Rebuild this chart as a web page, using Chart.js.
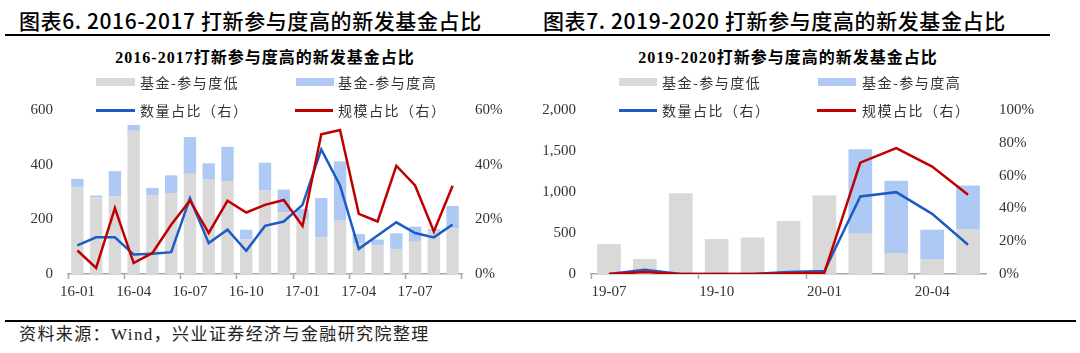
<!DOCTYPE html>
<html>
<head>
<meta charset="utf-8">
<script src="https://cdn.jsdelivr.net/npm/chart.js@4.4.1/dist/chart.umd.min.js"></script>
<style>
body{margin:0;width:1080px;height:353px;background:#fff;position:relative;overflow:hidden;font-family:"Noto Sans CJK SC",sans-serif;color:#000;}
.abs{position:absolute;white-space:nowrap;}
.hdr{font-size:21px;line-height:24px;font-weight:500;letter-spacing:0.6px;}
.ttl{font-family:"Liberation Serif","Noto Sans CJK SC",serif;font-size:16px;line-height:20px;font-weight:700;width:400px;text-align:center;letter-spacing:1px;}
.lg{font-size:14px;line-height:18px;color:#333;letter-spacing:1.5px;}
.box{height:8px;}
.ln{height:2.5px;}
</style>
</head>
<body>
<div class="abs hdr" style="left:19px;top:8px">图表6. 2016-2017 打新参与度高的新发基金占比</div>
<div class="abs hdr" style="left:543px;top:8px">图表7. 2019-2020 打新参与度高的新发基金占比</div>
<div class="abs" style="left:5px;top:34px;width:1045px;height:2px;background:#000"></div>

<div class="abs" style="left:0;top:86px"><canvas id="c1" width="540" height="224"></canvas></div>
<div class="abs" style="left:540px;top:86px"><canvas id="c2" width="540" height="224"></canvas></div>

<div class="abs ttl" style="left:65px;top:48px">2016-2017打新参与度高的新发基金占比</div>
<div class="abs ttl" style="left:588px;top:48px">2019-2020打新参与度高的新发基金占比</div>

<div class="abs box" style="left:96px;top:78px;width:39px;background:#d9d9d9"></div>
<div class="abs lg" style="left:140px;top:73px">基金-参与度低</div>
<div class="abs box" style="left:296px;top:78px;width:38px;background:#aec9f4"></div>
<div class="abs lg" style="left:338px;top:73px">基金-参与度高</div>
<div class="abs ln" style="left:96px;top:109px;width:39px;background:#1c5cc7"></div>
<div class="abs lg" style="left:140px;top:101px">数量占比（右）</div>
<div class="abs ln" style="left:295px;top:109px;width:38px;background:#c00000"></div>
<div class="abs lg" style="left:338px;top:101px">规模占比（右）</div>

<div class="abs box" style="left:619px;top:78px;width:38px;background:#d9d9d9"></div>
<div class="abs lg" style="left:662px;top:73px">基金-参与度低</div>
<div class="abs box" style="left:818px;top:78px;width:38px;background:#aec9f4"></div>
<div class="abs lg" style="left:862px;top:73px">基金-参与度高</div>
<div class="abs ln" style="left:619px;top:109px;width:38px;background:#1c5cc7"></div>
<div class="abs lg" style="left:662px;top:101px">数量占比（右）</div>
<div class="abs ln" style="left:817px;top:109px;width:39px;background:#c00000"></div>
<div class="abs lg" style="left:862px;top:101px">规模占比（右）</div>

<div class="abs" style="left:5px;top:320px;width:1071px;height:2px;background:#000"></div>
<div class="abs" style="left:19px;top:323px;font-size:17px;line-height:20px;color:#222;letter-spacing:1.4px">资料来源：<span style="font-family:'Liberation Serif'">Wind</span>，兴业证券经济与金融研究院整理</div>

<script>
// 2016-2017
const monthsA = ["16-01","16-02","16-03","16-04","16-05","16-06","16-07","16-08","16-09","16-10","16-11","16-12","17-01","17-02","17-03","17-04","17-05","17-06","17-07","17-08","17-09"];
const lowA  = [317, 280, 284, 524, 289, 296, 367, 345, 340, 126, 306, 226, 199, 134, 195, 111, 104, 91, 118, 155, 167];
const highA = [31, 7, 92, 21, 26, 65, 134, 60, 125, 36, 101, 83, 39, 144, 217, 35, 22, 58, 55, 9, 82];
const qtyA   = [10.5, 13.4, 13.4, 7.1, 7.4, 8.0, 27.7, 11.3, 16.2, 8.5, 17.6, 19.2, 25.3, 45.6, 32.4, 9.2, 14.1, 18.9, 15.0, 13.4, 18.1];
const scaleA = [8.6, 2.2, 24.1, 4.0, 7.7, 18.0, 26.9, 15.0, 26.8, 22.5, 25.3, 27.1, 17.6, 51.1, 52.7, 22.0, 19.2, 39.6, 32.4, 15.6, 32.3];

// 2019-2020
const monthsB = ["19-07","19-08","19-09","19-10","19-11","19-12","20-01","20-02","20-03","20-04","20-05"];
const lowB  = [365, 183, 986, 426, 446, 646, 955, 491, 256, 183, 548];
const highB = [0, 0, 0, 0, 0, 0, 5, 1030, 880, 357, 531];
const qtyB   = [0, 2.6, 0, 0, 0, 1.2, 1.8, 47.3, 49.9, 36.7, 17.8];
const scaleB = [0, 1.2, 0, 0, 0, 0.4, 0.8, 67.9, 76.7, 65.5, 48.3];

const GRAY = '#d9d9d9', LBLUE = '#aec9f4', BLUE = '#1c5cc7', RED = '#c00000';
const AXIS = '#a6a6a6', TXT = '#333';
const tickFont = {family: 'Liberation Serif', size: 15};

function makeChart(id, labels, low, high, qty, scale, yMax, yStep, y1Max, leftW, rightW, yFmt) {
    const n = labels.length;
    new Chart(document.getElementById(id), {
        type: 'bar',
        data: {
            labels: labels,
            datasets: [
                {type: 'line', label: '规模占比（右）', data: scale, yAxisID: 'y1', borderColor: RED, borderWidth: 2.5, pointRadius: 0, tension: 0, order: 1},
                {type: 'line', label: '数量占比（右）', data: qty, yAxisID: 'y1', borderColor: BLUE, borderWidth: 2.5, pointRadius: 0, tension: 0, order: 2},
                {label: '基金-参与度低', data: low, backgroundColor: GRAY, stack: 's', order: 3, barPercentage: 0.66, categoryPercentage: 1},
                {label: '基金-参与度高', data: high, backgroundColor: LBLUE, stack: 's', order: 3, barPercentage: 0.66, categoryPercentage: 1}
            ]
        },
        options: {
            responsive: false,
            animation: false,
            layout: {padding: 0},
            plugins: {legend: {display: false}, tooltip: {enabled: false}},
            scales: {
                x: {
                    stacked: true,
                    offset: true,
                    grid: {
                        offset: true, drawOnChartArea: false, drawTicks: true, tickLength: 5, tickWidth: 1.5,
                        tickColor: ctx => ((ctx.type === 'tick' ? ctx.index : n) % 3 === 0 ? AXIS : 'rgba(0,0,0,0)')
                    },
                    border: {color: AXIS, width: 1.5},
                    ticks: {autoSkip: false, maxRotation: 0, padding: 4, color: TXT, font: tickFont,
                        callback: (v, i) => (i % 3 === 0 ? labels[i] : '')},
                    afterFit: s => { s.height = 36; }
                },
                y: {
                    stacked: true, min: 0, max: yMax,
                    grid: {display: false, drawTicks: false},
                    border: {display: false},
                    ticks: {stepSize: yStep, padding: 15, color: TXT, font: tickFont, callback: yFmt},
                    afterFit: s => { s.width = leftW; }
                },
                y1: {
                    position: 'right', min: 0, max: y1Max,
                    grid: {display: false, drawTicks: false},
                    border: {display: false},
                    ticks: {stepSize: 20, padding: 13, color: TXT, font: tickFont, callback: v => v + '%'},
                    afterFit: s => { s.width = rightW; }
                }
            }
        }
    });
}

makeChart('c1', monthsA, lowA, highA, qtyA, scaleA, 600, 200, 60, 68, 78, v => v);
makeChart('c2', monthsB, lowB, highB, qtyB, scaleB, 2000, 500, 100, 51, 94, v => v.toLocaleString('en-US'));
</script>
</body>
</html>
